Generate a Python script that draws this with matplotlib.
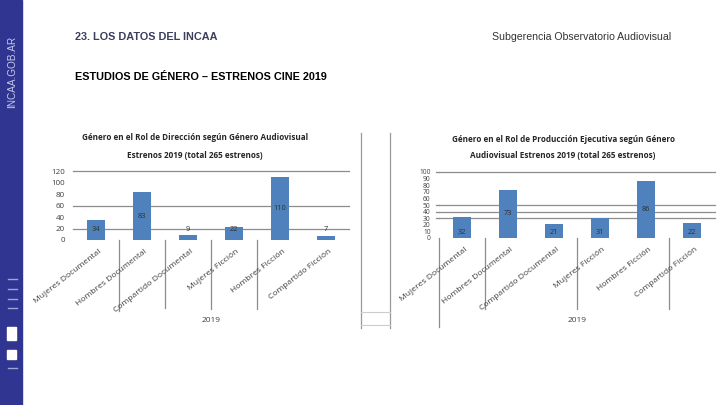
import matplotlib
matplotlib.use('Agg')
import matplotlib.pyplot as plt
from matplotlib.lines import Line2D
from matplotlib.patches import Rectangle
import matplotlib.transforms as mtrans

# data
categorias = ['Mujeres Documental', 'Hombres Documental', 'Compartido Documental',
              'Mujeres Ficción', 'Hombres Ficción', 'Compartido Ficción']
direccion = [34, 83, 9, 22, 110, 7]
produccion = [32, 73, 21, 31, 86, 22]
ticks_dir = [0, 20, 40, 60, 80, 100, 120]
ticks_prod = [0, 10, 20, 30, 40, 50, 60, 70, 80, 90, 100]
grid_dir = [20, 60, 120]
grid_prod = [30, 40, 50, 100]

W, H = 720, 405
BLUE = '#4f81bd'
GRID = '#8c8c8c'
TXT = '#404040'
chart_font = 'Open Sans'


def px_axes(fig, x0, y0, x1, y1):
    # pixel box (top-left origin) -> axes
    return fig.add_axes([x0 / W, (H - y1) / H, (x1 - x0) / W, (y1 - y0) / H])


def fig_line(fig, xs, ys, **kw):
    fig.add_artist(Line2D([x / W for x in xs], [(H - y) / H for y in ys],
                          transform=fig.transFigure, **kw))


def bar_chart(ax, vals, ticks, grids, ymax, sep_x, sep_len, lab_pos, tick_fs):
    xs = list(range(len(vals)))
    ax.bar(xs, vals, width=0.4, color=BLUE, zorder=3)
    ax.set_xlim(-0.5, len(vals) - 0.5)
    ax.set_ylim(0, ymax)
    for g in grids:
        ax.axhline(g, color=GRID, lw=0.9, zorder=1, clip_on=False)
    for s in ax.spines.values():
        s.set_visible(False)
    ax.set_yticks(ticks)
    ax.set_yticklabels([str(t) for t in ticks], fontsize=tick_fs, color=TXT, family=chart_font)
    ax.tick_params(axis='y', length=0, pad=6)
    ax.set_xticks([])
    for x, v in zip(xs, vals):
        ax.text(x, lab_pos(v), str(v), ha='center', va='center', fontsize=5.4,
                color='#303030', family=chart_font, zorder=4)
    trans = mtrans.blended_transform_factory(ax.transData, ax.transAxes)
    for sx, ln in zip(sep_x, sep_len):
        ax.add_line(Line2D([sx, sx], [0, -ln], transform=trans, color=GRID, lw=0.9, clip_on=False))
    for x, c in zip(xs, categorias):
        ax.text(x + 0.05, -0.12, c, transform=trans, rotation=38, ha='right', va='top',
                rotation_mode='anchor', fontsize=6.1, color=TXT, family=chart_font)


fig = plt.figure(figsize=(W / 100, H / 100), dpi=100)
fig.patch.set_facecolor('white')

# sidebar
fig.add_artist(Rectangle((0, 0), 22 / W, 1, transform=fig.transFigure, color='#2f3590', zorder=0))
fig.text(12 / W, (H - 72) / H, 'INCAA.GOB.AR', rotation=90, ha='center', va='center',
         fontsize=7.2, color='#c8cae8', family='Liberation Sans')
for y in [279, 289, 299, 308, 368]:
    fig_line(fig, [8, 17], [y, y], color='#9fa3d6', lw=1)
for y0, y1 in [(327, 340), (350, 359)]:
    fig.add_artist(Rectangle((7 / W, (H - y1) / H), 9 / W, (y1 - y0) / H,
                             transform=fig.transFigure, color='white'))

# header
fig.text(75 / W, (H - 37) / H, '23. LOS DATOS DEL INCAA', fontsize=7.8, fontweight='bold',
         color='#3b3f5e', family='Liberation Sans', va='center')
fig.text(75 / W, (H - 77) / H, 'ESTUDIOS DE GÉNERO – ESTRENOS CINE 2019', fontsize=7.8,
         fontweight='bold', color='black', family='Liberation Sans', va='center')
fig.text(492 / W, (H - 37) / H, 'Subgerencia Observatorio Audiovisual', fontsize=7.6,
         color='#333333', family='Liberation Sans', va='center')

title_kw = dict(ha='center', va='center', fontsize=5.9, fontweight='bold',
                color='#262626', family=chart_font)
year_kw = dict(ha='center', va='center', fontsize=6.0, color=TXT, family=chart_font)

# left chart
ax1 = px_axes(fig, 73, 171, 349, 240)
bar_chart(ax1, direccion, ticks_dir, grid_dir, 120, [0.5, 1.5, 2.5, 3.5], [1.03, 0.98, 1.0, 1.0],
          lambda v: v / 2 if v / 2 > 17 else 19, 5.8)
fig.text(195 / W, (H - 138) / H, 'Género en el Rol de Dirección según Género Audiovisual', **title_kw)
fig.text(195 / W, (H - 155) / H, 'Estrenos 2019 (total 265 estrenos)', **title_kw)
fig.text(211 / W, (H - 321) / H, '2019', **year_kw)

# right chart
ax2 = px_axes(fig, 439, 172, 715, 238)
bar_chart(ax2, produccion, ticks_prod, grid_prod, 100, [-0.5, 0.5, 2.5, 4.5], [1.35, 1.07, 1.07, 1.07],
          lambda v: v / 2 if v > 50 else 9, 4.8)
for g in grid_prod:
    ax2.add_line(Line2D([-0.57, -0.5], [g, g], color=GRID, lw=0.9, clip_on=False))
fig.text(563 / W, (H - 139) / H, 'Género en el Rol de Producción Ejecutiva según Género', **title_kw)
fig.text(563 / W, (H - 156) / H, 'Audiovisual Estrenos 2019 (total 265 estrenos)', **title_kw)
fig.text(577 / W, (H - 321) / H, '2019', **year_kw)

# middle frame pieces
fig_line(fig, [361, 361], [133, 328], color='#999999', lw=0.9)
fig_line(fig, [390, 390], [133, 328], color='#999999', lw=0.9)
fig_line(fig, [361, 390], [312, 312], color='#cccccc', lw=0.8)
fig_line(fig, [361, 390], [325, 325], color='#cccccc', lw=0.8)

fig.savefig('out.png', dpi=100)
